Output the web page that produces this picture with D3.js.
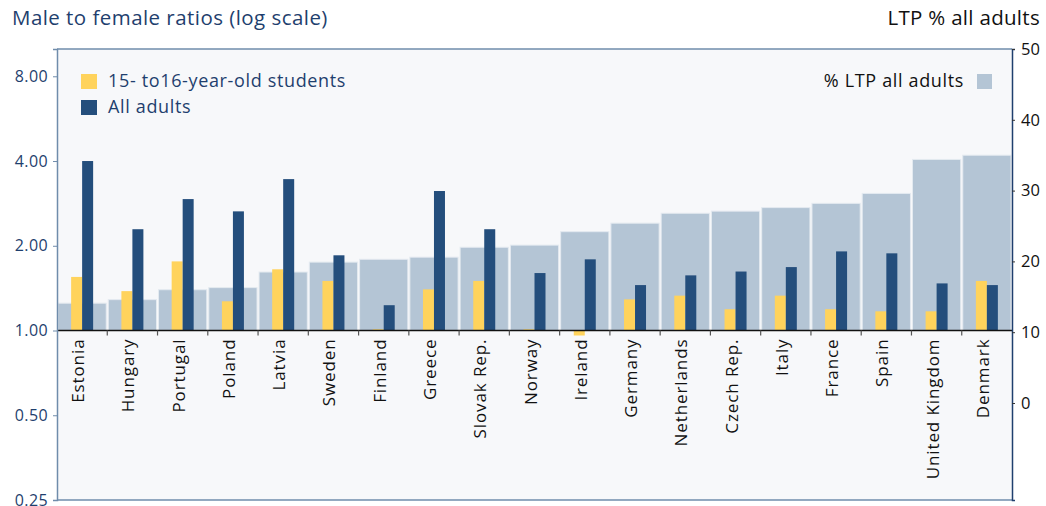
<!DOCTYPE html>
<html>
<head>
<meta charset="utf-8">
<script src="https://cdn.jsdelivr.net/npm/d3@7"></script>
<style>
  body { margin: 0; background: #ffffff; }
  svg { display: block; font-family: "Open Sans", "DejaVu Sans", sans-serif; }
</style>
</head>
<body>
<svg id="chart" width="1046" height="506"></svg>
<script>
//=================================
//  Data
//=================================
var countries = ["Estonia", "Hungary", "Portugal", "Poland", "Latvia", "Sweden", "Finland", "Greece",
  "Slovak Rep.", "Norway", "Ireland", "Germany", "Netherlands", "Czech Rep.", "Italy", "France",
  "Spain", "United Kingdom", "Denmark"];

//Male to female ratios, 15- to 16-year-old students (log axis)
var students = [1.55, 1.38, 1.76, 1.27, 1.65, 1.50, 1.01, 1.40, 1.50, 1.01, 0.96, 1.29, 1.33, 1.19,
  1.33, 1.19, 1.17, 1.17, 1.50];

//Male to female ratios, all adults (log axis)
var adults = [4.00, 2.29, 2.93, 2.65, 3.45, 1.85, 1.23, 3.13, 2.29, 1.60, 1.79, 1.45, 1.57, 1.62,
  1.68, 1.91, 1.88, 1.47, 1.45];

//% LTP all adults (right axis)
var ltp = [14.1, 14.6, 16.0, 16.3, 18.5, 19.9, 20.3, 20.6, 22.0, 22.3, 24.2, 25.4, 26.8, 27.1,
  27.6, 28.2, 29.6, 34.4, 35.0];

var leftTicks = [0.25, 0.5, 1, 2, 4, 8];
var rightTicks = [0, 10, 20, 30, 40, 50];

//Colours
var cYellow = "#ffd35c", cBlue = "#244e7c", cGrey = "#b4c5d5";
var cNavy = "#1f3f6e";

//=================================
//  Layout and scales
//=================================
var svg = d3.select("#chart");
var plotL = 57, plotR = 1012, plotT = 49, plotB = 500;

var x = d3.scaleBand().domain(countries).range([plotL, plotR]).paddingInner(0.04).paddingOuter(0.02);
var xStep = d3.scaleBand().domain(countries).range([plotL, plotR]);//Category slots (for ticks)
var yL = d3.scaleLog().domain([0.25, 10]).range([plotB, plotT]);
var yR = d3.scaleLinear().domain([-13.7, 50]).range([plotB, plotT]);

var base = yL(1);//x-axis line

//Plot background
svg.append("rect")
  .attr("x", plotL).attr("y", plotT)
  .attr("width", plotR - plotL).attr("height", plotB - plotT)
  .attr("fill", "#f7f8fa");

//LTP bars (behind)
svg.append("g").selectAll("rect")
  .data(countries)
  .join("rect")
  .attr("x", function(d) { return x(d); })
  .attr("width", x.bandwidth())
  .attr("y", function(d, i) { return yR(ltp[i]); })
  .attr("height", function(d, i) { return base - yR(ltp[i]); })
  .attr("fill", cGrey)
  .attr("stroke", "#e4eaf0")
  .attr("stroke-width", 1);

//Ratio bars, 11px each either side of the slot centre
var bw = 11;
function barY(v) { return Math.min(yL(v), base); }
function barH(v) { return Math.abs(base - yL(v)); }

svg.append("g").selectAll("rect")
  .data(countries)
  .join("rect")
  .attr("x", function(d) { return xStep(d) + xStep.bandwidth() / 2 - bw; })
  .attr("width", bw)
  .attr("y", function(d, i) { return barY(students[i]); })
  .attr("height", function(d, i) { return Math.max(barH(students[i]), 1); })
  .attr("fill", cYellow);

svg.append("g").selectAll("rect")
  .data(countries)
  .join("rect")
  .attr("x", function(d) { return xStep(d) + xStep.bandwidth() / 2; })
  .attr("width", bw)
  .attr("y", function(d, i) { return barY(adults[i]); })
  .attr("height", function(d, i) { return barH(adults[i]); })
  .attr("fill", cBlue);

//Frame lines
svg.append("line").attr("x1", plotL).attr("x2", plotR).attr("y1", plotT).attr("y2", plotT)
  .attr("stroke", "#6f8cab").attr("stroke-width", 1.5);
svg.append("line").attr("x1", plotL).attr("x2", plotR).attr("y1", plotB).attr("y2", plotB)
  .attr("stroke", "#6f8cab").attr("stroke-width", 1.5);

//x-axis line with ticks between categories
svg.append("line").attr("x1", plotL).attr("x2", plotR).attr("y1", base).attr("y2", base)
  .attr("stroke", "#111").attr("stroke-width", 1.5);
svg.append("g").selectAll("line")
  .data(countries.slice(1))
  .join("line")
  .attr("x1", function(d) { return xStep(d); })
  .attr("x2", function(d) { return xStep(d); })
  .attr("y1", base).attr("y2", base + 5)
  .attr("stroke", "#555").attr("stroke-width", 1.2);

//Category labels
svg.append("g").selectAll("text")
  .data(countries)
  .join("text")
  .attr("transform", function(d) {
    return "translate(" + (xStep(d) + xStep.bandwidth() / 2 + 2) + "," + (base + 8) + ") rotate(-90)";
  })
  .attr("text-anchor", "end")
  .attr("font-size", 17)
  .attr("letter-spacing", 0.9)
  .attr("fill", "#111")
  .text(function(d) { return d; });

//Left axis
var axL = svg.append("g")
  .attr("transform", "translate(" + plotL + ",0)")
  .call(d3.axisLeft(yL).tickValues(leftTicks).tickFormat(d3.format(".2f")).tickSize(4).tickPadding(5));
axL.select(".domain").attr("stroke", "#6f8cab").attr("stroke-width", 1.5);
axL.selectAll(".tick line").attr("stroke", "#6f8cab");
axL.selectAll("text").attr("font-size", 16).attr("letter-spacing", 0.4)
  .attr("fill", cNavy).attr("font-family", "Open Sans, sans-serif");

//Right axis
var axR = svg.append("g")
  .attr("transform", "translate(" + plotR + ",0)")
  .call(d3.axisRight(yR).tickValues(rightTicks).tickSize(3).tickPadding(6));
axR.select(".domain").attr("stroke", cNavy).attr("stroke-width", 1.5);
axR.selectAll(".tick line").attr("stroke", "#333");
axR.selectAll("text").attr("font-size", 16.5).attr("fill", "#111").attr("font-family", "Open Sans, sans-serif");

//Titles
svg.append("text").attr("x", 12).attr("y", 25)
  .attr("font-size", 20.5).attr("letter-spacing", 0.45).attr("fill", cNavy)
  .text("Male to female ratios (log scale)");
svg.append("text").attr("x", 1040).attr("y", 25)
  .attr("text-anchor", "end")
  .attr("font-size", 20.5).attr("letter-spacing", 0.3).attr("fill", "#111")
  .text("LTP % all adults");

//Legend, left
var legL = [
  { label: "15- to16-year-old students", color: cYellow },
  { label: "All adults", color: cBlue }
];
var lg = svg.append("g").selectAll("g")
  .data(legL)
  .join("g")
  .attr("transform", function(d, i) { return "translate(81," + (74 + i * 26) + ")"; });
lg.append("rect").attr("width", 16).attr("height", 15).attr("fill", function(d) { return d.color; });
lg.append("text").attr("x", 27).attr("y", 13)
  .attr("font-size", 18).attr("letter-spacing", 0.65).attr("fill", cNavy)
  .text(function(d) { return d.label; });

//Legend, right
svg.append("rect").attr("x", 977).attr("y", 74).attr("width", 15).attr("height", 15).attr("fill", cGrey);
svg.append("text").attr("x", 964).attr("y", 87)
  .attr("text-anchor", "end")
  .attr("font-size", 18).attr("letter-spacing", 0.65).attr("fill", "#111")
  .text("% LTP all adults");
</script>
</body>
</html>
